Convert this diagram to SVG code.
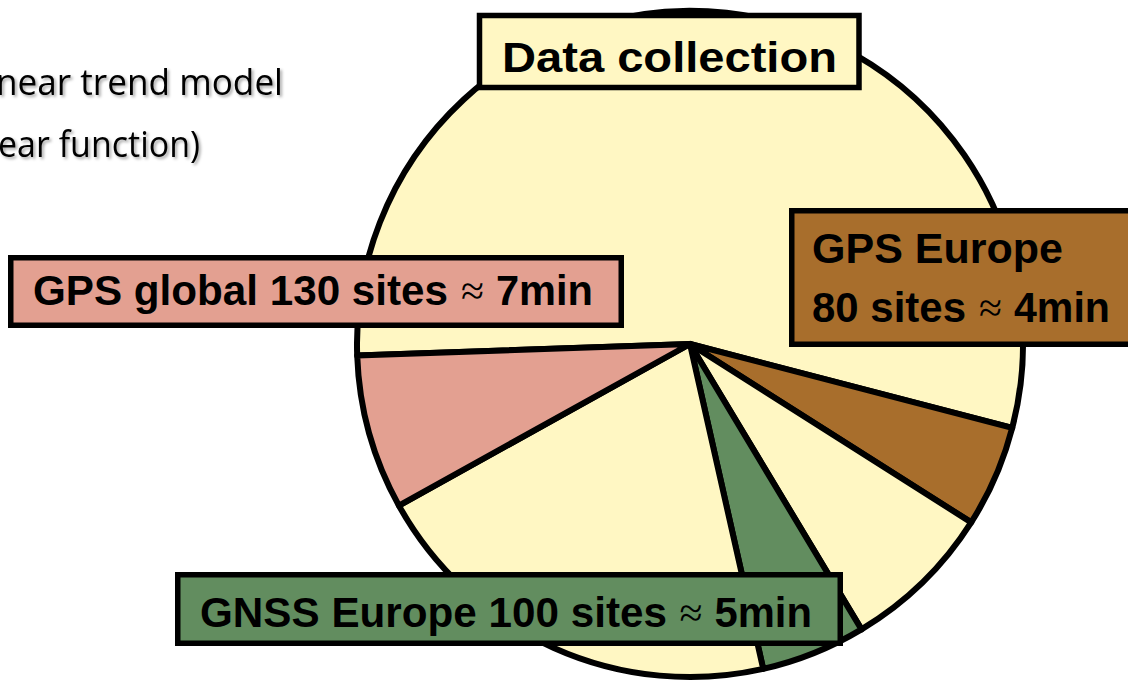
<svg xmlns="http://www.w3.org/2000/svg" width="1128" height="689" viewBox="0 0 1128 689">
<defs>
<filter id="sh" x="-10%" y="-30%" width="130%" height="180%">
<feDropShadow dx="2" dy="2" stdDeviation="1.5" flood-color="#000" flood-opacity="0.35"/>
</filter>
</defs>
<style>
.sl{stroke:#000;stroke-width:6;stroke-linejoin:round}
.y{fill:#FFF7C3}
.p{fill:#E3A091}
.g{fill:#628D5F}
.b{fill:#A86E2C}
.box{stroke:#000;stroke-width:5.5}
.lbl{font-family:"Liberation Sans",Arial,sans-serif;font-weight:bold;font-size:43px;fill:#000}
.ap{font-family:"Liberation Serif",serif;font-weight:normal;font-size:42px;fill:#000}
.note{font-family:"Open Sans",Lato,sans-serif;font-size:36px;fill:#000}
</style>
<rect width="1128" height="689" fill="#fff"/>
<g id="notes" filter="url(#sh)">
<text class="note" x="-4" y="95" textLength="287" lengthAdjust="spacingAndGlyphs">near trend model</text>
<text class="note" x="-2" y="157" textLength="202" lengthAdjust="spacingAndGlyphs">ear function)</text>
</g>
<g id="pie">
<path class="sl y" d="M690 344 L357.2 355.6 A333 333 0 1 1 1012.2 427.9 Z"/>
<path class="sl b" d="M690 344 L1012.2 427.9 A333 333 0 0 1 971.2 522.4 Z"/>
<path class="sl y" d="M690 344 L971.2 522.4 A333 333 0 0 1 861.5 629.4 Z"/>
<path class="sl g" d="M690 344 L861.5 629.4 A333 333 0 0 1 763.2 668.9 Z"/>
<path class="sl y" d="M690 344 L763.2 668.9 A333 333 0 0 1 398.9 505.6 Z"/>
<path class="sl p" d="M690 344 L398.9 505.6 A333 333 0 0 1 357.2 355.6 Z"/>
</g>
<g id="data-collection">
<rect class="box y" x="479.5" y="15.5" width="379.5" height="72"/>
<text class="lbl" x="502" y="71.5" font-size="47" textLength="335" lengthAdjust="spacingAndGlyphs">Data collection</text>
</g>
<g id="gps-global">
<rect class="box p" x="10.75" y="257.75" width="610.5" height="67.5"/>
<text class="lbl" x="33" y="305" textLength="415" lengthAdjust="spacingAndGlyphs">GPS global 130 sites</text>
<text class="ap" x="461" y="305" textLength="23" lengthAdjust="spacingAndGlyphs">≈</text>
<text class="lbl" x="496" y="305" textLength="97" lengthAdjust="spacingAndGlyphs">7min</text>
</g>
<g id="gps-europe">
<rect class="box b" x="791.75" y="210.75" width="400" height="133.5"/>
<text class="lbl" x="812" y="263">GPS Europe</text>
<text class="lbl" x="812" y="322" textLength="154" lengthAdjust="spacingAndGlyphs">80 sites</text>
<text class="ap" x="979" y="322" textLength="23" lengthAdjust="spacingAndGlyphs">≈</text>
<text class="lbl" x="1014" y="322" textLength="96" lengthAdjust="spacingAndGlyphs">4min</text>
</g>
<g id="gnss-europe">
<rect class="box g" x="177.75" y="574.75" width="662.5" height="68.5"/>
<text class="lbl" x="200" y="627" textLength="467" lengthAdjust="spacingAndGlyphs">GNSS Europe 100 sites</text>
<text class="ap" x="679.5" y="627" textLength="23" lengthAdjust="spacingAndGlyphs">≈</text>
<text class="lbl" x="714.5" y="627" textLength="97.5" lengthAdjust="spacingAndGlyphs">5min</text>
</g>
<g id="connectors"/>
</svg>
